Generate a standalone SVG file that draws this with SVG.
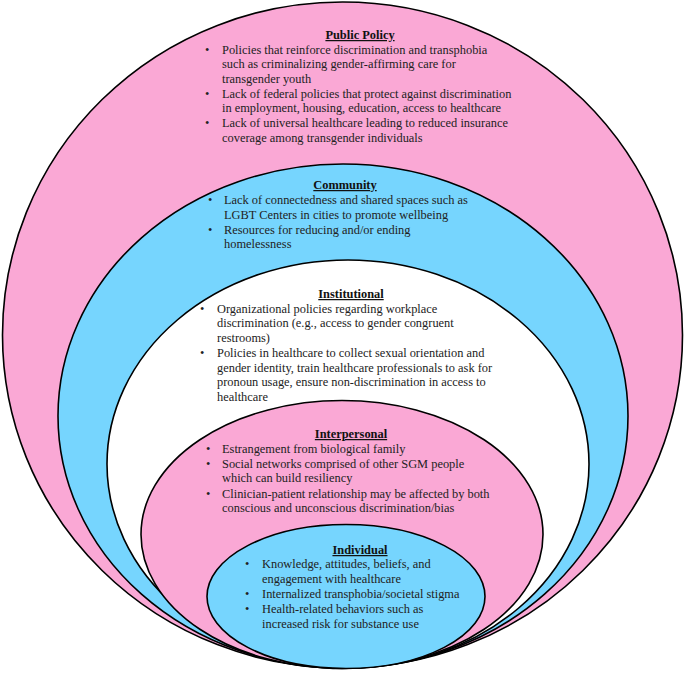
<svg xmlns="http://www.w3.org/2000/svg" width="685" height="678" viewBox="0 0 685 678">
<style>
.ring{stroke:#000;stroke-width:1.6}
.pink{fill:#FAA8D5}
.blue{fill:#76D5FE}
.white{fill:#FFFFFF}
text{font-family:"Liberation Serif","Times New Roman",serif;font-size:12.4px;fill:#222}
.t{font-weight:bold;text-decoration:underline;text-anchor:middle;fill:#111}
</style>
<rect width="685" height="678" fill="#fff"/>
<g id="public-policy">
<ellipse class="ring pink" cx="342.5" cy="335" rx="340" ry="333"/>
<text class="t" x="360" y="39">Public Policy</text>
<text x="205" y="54">•</text><text x="222" y="54">Policies that reinforce discrimination and transphobia</text>
<text x="222" y="68">such as criminalizing gender-affirming care for</text>
<text x="222" y="83">transgender youth</text>
<text x="205" y="98">•</text><text x="222" y="98">Lack of federal policies that protect against discrimination</text>
<text x="222" y="112">in employment, housing, education, access to healthcare</text>
<text x="205" y="127">•</text><text x="222" y="127">Lack of universal healthcare leading to reduced insurance</text>
<text x="222" y="142">coverage among transgender individuals</text>
</g>
<g id="community">
<ellipse class="ring blue" cx="343" cy="416" rx="285" ry="252"/>
<text class="t" x="345" y="189">Community</text>
<text x="208" y="204">•</text><text x="224" y="204">Lack of connectedness and shared spaces such as</text>
<text x="224" y="219">LGBT Centers in cities to promote wellbeing</text>
<text x="208" y="234">•</text><text x="224" y="234"> Resources for reducing and/or ending</text>
<text x="224" y="248">homelessness</text>
</g>
<g id="institutional">
<ellipse class="ring white" cx="348" cy="464" rx="241" ry="204"/>
<text class="t" x="351" y="298">Institutional</text>
<text x="200" y="313">•</text><text x="217" y="313">Organizational policies regarding workplace</text>
<text x="217" y="327">discrimination (e.g., access to gender congruent</text>
<text x="217" y="342">restrooms)</text>
<text x="200" y="357">•</text><text x="217" y="357">Policies in healthcare to collect sexual orientation and</text>
<text x="217" y="372">gender identity, train healthcare professionals to ask for</text>
<text x="217" y="386">pronoun usage, ensure non-discrimination in access to</text>
<text x="217" y="401">healthcare</text>
</g>
<g id="interpersonal">
<ellipse class="ring pink" cx="342" cy="534.5" rx="201" ry="134"/>
<text class="t" x="351" y="438">Interpersonal</text>
<text x="206" y="453">•</text><text x="222" y="453">Estrangement from biological family</text>
<text x="206" y="468">•</text><text x="222" y="468">Social networks comprised of other SGM people</text>
<text x="222" y="482">which can build resiliency</text>
<text x="206" y="498">•</text><text x="222" y="498">Clinician-patient relationship may be affected by both</text>
<text x="222" y="512">conscious and unconscious discrimination/bias</text>
</g>
<g id="individual">
<ellipse class="ring blue" cx="346" cy="596.5" rx="139" ry="72"/>
<text class="t" x="360" y="554">Individual</text>
<text x="245" y="568">•</text><text x="262" y="568">Knowledge, attitudes, beliefs, and</text>
<text x="262" y="583">engagement with healthcare</text>
<text x="245" y="598">•</text><text x="262" y="598">Internalized transphobia/societal stigma</text>
<text x="245" y="613">•</text><text x="262" y="613">Health-related behaviors such as</text>
<text x="262" y="628">increased risk for substance use</text>
</g>
<g id="connectors"/>
</svg>
